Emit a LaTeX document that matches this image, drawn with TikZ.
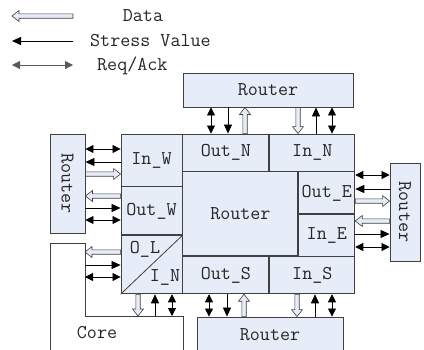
\documentclass[tikz,border=0pt]{standalone}
\usepackage{fontspec}
\usepackage{graphicx}
\usetikzlibrary{arrows.meta,positioning,calc}
\definecolor{portfill}{HTML}{E6ECF8}
\definecolor{linegray}{HTML}{404040}
\newcommand{\lblfont}{\ttfamily\fontsize{19.5}{22}\selectfont}

\begin{document}
\begin{tikzpicture}[x=1pt, y=-1pt,
  port/.style={rectangle, draw=linegray, fill=portfill, line width=0.9pt,
               inner sep=0pt, font=\lblfont, text=black!85},
  lbl/.style={inner sep=0pt, font=\lblfont, text=black!85},
  stress/.style={draw=black, line width=0.8pt, -{Triangle[length=9pt,width=8pt]}},
  req/.style={draw=black, line width=0.8pt,
              {Triangle[length=8pt,width=8pt]}-{Triangle[length=8pt,width=8pt]}},
  data/.style={draw=linegray, fill=portfill, line width=0.6pt,
               to path={let \p1=(\tikztostart), \p2=(\tikztotarget),
                 \n1={atan2(\y2-\y1,\x2-\x1)}, \n2={veclen(\x2-\x1,\y2-\y1)} in
                 [shift={(\p1)}, rotate=\n1]
                 (0pt,-2.2pt) -- ({\n2-7pt},-2.2pt) -- ({\n2-7pt},-5.5pt) -- ({\n2*1pt},0pt)
                 -- ({\n2-7pt},5.5pt) -- ({\n2-7pt},2.2pt) -- (0pt,2.2pt) -- cycle}},
]
  \clip (0,0) rectangle (424,349);

  \coordinate (ld1) at (73,16);  \coordinate (ld2) at (12,16);
  \coordinate (ls1) at (73,41);  \coordinate (ls2) at (12,41);
  \coordinate (lr1) at (12,65);  \coordinate (lr2) at (73,65);
  \draw[data] (ld1) to (ld2);
  \draw[stress] (ls1) -- (ls2);
  \draw[req, draw=black!65] (lr1) -- (lr2);
  \node[lbl] (tdata) at (143,16) {Data};
  \node[lbl, anchor=west] (tstress) at (90,41) {Stress Value};
  \node[lbl, anchor=west] (treq) at (97,66) {Req/Ack};

  \node[port, minimum width=170pt, minimum height=34pt] (rn) at (268,90) {Router};
  \node[port, minimum width=35pt, minimum height=99pt] (rw) at (67.5,183.5) {\rotatebox{-90}{Router}};
  \node[port, minimum width=30pt, minimum height=98pt] (re) at (405,212) {\rotatebox{-90}{Router}};
  \node[port, minimum width=146pt, minimum height=36pt] (rs) at (270,335) {Router};

  \node[port, minimum width=61pt, minimum height=52pt] (inw) at (151.5,160) {In\_W};
  \node[port, minimum width=61pt, minimum height=48pt, below=0pt of inw] (outw) {Out\_W};
  \node[port, minimum width=61pt, minimum height=58pt, below=0pt of outw] (ol) {};
  \node[port, minimum width=86pt, minimum height=37pt, anchor=north west] (outn) at (inw.north east) {Out\_N};
  \node[port, minimum width=85pt, minimum height=37pt, right=0pt of outn] (inn) {In\_N};
  \node[port, minimum width=115pt, minimum height=84pt, anchor=north west] (rc) at (outn.south west) {Router};
  \node[port, minimum width=56pt, minimum height=42pt, anchor=north west] (oute) at (rc.north east) {Out\_E};
  \node[port, minimum width=56pt, minimum height=42pt, below=0pt of oute] (ine) {In\_E};
  \node[port, minimum width=86pt, minimum height=37pt, anchor=north west] (outs) at (rc.south west) {Out\_S};
  \node[port, minimum width=85pt, minimum height=37pt, right=0pt of outs] (ins) {In\_S};
  \draw[linegray, line width=0.8pt] (ol.south west) -- (ol.north east);
  \node[lbl] (tol) at ($(ol.center)+(-6.5,-15)$) {O\_L};
  \node[lbl] (tin) at ($(ol.center)+(13.5,13)$) {I\_N};

  \coordinate (cw) at (85,243);
  \coordinate (cs) at (85,316);
  \draw[linegray, line width=0.9pt] (50,352) |- (cw) |- (183,316) -- (183,352);
  \node[lbl] (core) at (97,333) {Core};

  \draw[req] (rw.east |- 0,149) -- (inw.west |- 0,149);
  \draw[stress] (inw.west |- 0,162) -- (rw.east |- 0,162);
  \draw[data] (rw.east |- 0,174) to (inw.west |- 0,174);
  \draw[data] (outw.west |- 0,196) to (rw.east |- 0,196);
  \draw[stress] (rw.east |- 0,208) -- (outw.west |- 0,208);
  \draw[req] (rw.east |- 0,220) -- (outw.west |- 0,220);

  \draw[req] (rn.south -| 211,0) -- (outn.north -| 211,0);
  \draw[stress] (rn.south -| 228,0) -- (outn.north -| 228,0);
  \draw[data] (outn.north -| 245,0) to (rn.south -| 245,0);
  \draw[data] (rn.south -| 298,0) to (inn.north -| 298,0);
  \draw[stress] (inn.north -| 316,0) -- (rn.south -| 316,0);
  \draw[req] (rn.south -| 332,0) -- (inn.north -| 332,0);

  \draw[req] (oute.east |- 0,175) -- (re.west |- 0,175);
  \draw[stress] (re.west |- 0,189) -- (oute.east |- 0,189);
  \draw[data] (oute.east |- 0,201) to (re.west |- 0,201);
  \draw[data] (re.west |- 0,221) to (ine.east |- 0,221);
  \draw[stress] (ine.east |- 0,234) -- (re.west |- 0,234);
  \draw[req] (ine.east |- 0,247) -- (re.west |- 0,247);

  \draw[req] (outs.south -| 209,0) -- (rs.north -| 209,0);
  \draw[stress] (outs.south -| 227,0) -- (rs.north -| 227,0);
  \draw[data] (rs.north -| 244,0) to (outs.south -| 244,0);
  \draw[data] (ins.south -| 297,0) to (rs.north -| 297,0);
  \draw[stress] (rs.north -| 315,0) -- (ins.south -| 315,0);
  \draw[req] (ins.south -| 332,0) -- (rs.north -| 332,0);

  \draw[data] (ol.west |- 0,252) to (cw |- 0,252);
  \draw[stress] (cw |- 0,265) -- (ol.west |- 0,265);
  \draw[req] (cw |- 0,277) -- (ol.west |- 0,277);
  \draw[data] (ol.south -| 138,0) to (cs -| 138,0);
  \draw[stress] (cs -| 155,0) -- (ol.south -| 155,0);
  \draw[req] (cs -| 172,0) -- (ol.south -| 172,0);
\end{tikzpicture}
\end{document}
